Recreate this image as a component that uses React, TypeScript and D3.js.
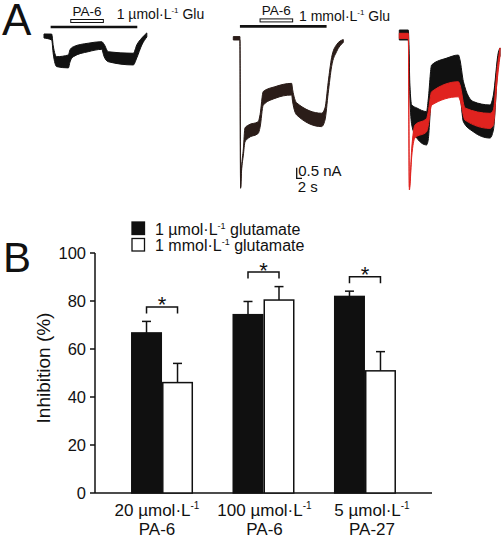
import React from "react";
import * as d3 from "d3";

const FONT = "'Liberation Sans', Arial, Helvetica, sans-serif";

// ---------- Panel A: current traces (time in s, current in nA) ----------
const T1_TIME = [0, 2.9, 3.5, 4.8, 9.2, 9.8, 11.1, 16.7, 21.8, 22.6, 24.3, 33.7, 35.0, 36.9, 38.8];
const T1_MEAN = [0, -0.05, -0.66, -1.21, -1.2, -0.94, -0.74, -0.54, -0.45, -0.66, -0.98, -1.09, -0.73, -0.26, 0.05];
const T1_SPREAD = [0.19, 0.28, 0.38, 0.47, 0.61, 0.57, 0.47, 0.4, 0.36, 0.57, 0.47, 0.55, 0.61, 0.33, 0.19];

const T2_TIME = [0, 2.5, 2.75, 3.1, 3.8, 4.4, 5.7, 9.4, 10.1, 11.3, 15.7, 22.0, 22.4, 23.9, 33.3, 34.6, 35.8, 37.1, 39.0, 41.5];
const T2_MEAN = [0, 0, -7.05, -6.2, -5.36, -4.56, -4.4, -4.21, -3.9, -2.83, -2.56, -2.4, -2.72, -3.33, -3.85, -3.57, -2.34, -1.12, -0.46, -0.13];
const T2_SPREAD = [0.16, 0.16, 0.05, 0.15, 0.3, 0.66, 0.61, 0.55, 0.6, 0.64, 0.55, 0.55, 0.57, 0.57, 0.63, 0.57, 0.52, 0.42, 0.33, 0.14];

const T3_BLACK_TIME = [0, 3.4, 4.0, 4.7, 6.6, 10.3, 10.9, 12.2, 17.9, 22.3, 22.9, 24.2, 27.9, 34.2, 35.5, 37.4, 38.0];
const T3_BLACK_MEAN = [0, 0, -2.67, -3.77, -4.15, -4.4, -4.01, -2.2, -1.88, -1.77, -2.0, -3.15, -3.85, -4.08, -3.66, -1.04, -0.8];
const T3_BLACK_SPREAD = [0.47, 0.47, 0.61, 0.94, 1.42, 1.57, 1.89, 1.57, 1.58, 1.65, 1.65, 1.89, 1.42, 1.56, 1.65, 0.47, 0.38];

const T3_RED_TIME = [0, 3.4, 3.8, 4.7, 5.9, 10.3, 10.9, 12.2, 22.3, 22.9, 24.8, 34.2, 35.5, 36.8, 38.0];
const T3_RED_MEAN = [-0.04, -0.04, -7.24, -5.52, -4.55, -4.25, -3.96, -2.99, -2.56, -2.71, -3.73, -4.05, -3.89, -2.03, -0.8];
const T3_RED_SPREAD = [0.24, 0.24, 0.14, 0.38, 0.61, 0.63, 0.66, 0.63, 0.71, 0.71, 0.57, 0.71, 0.71, 0.57, 0.38];

const GLU_ON = 2.5;
const GLU_OFF = 35.2;
const PA_ON = 10.1;
const PA_OFF = 22.4;
const SCALE_NA = 0.5;
const SCALE_S = 2;

// ---------- Panel B: bars ----------
const GROUP_IDS = ["g20", "g100", "g5"];
const GROUP_DOSE = ["20", "100", "5"];
const GROUP_DRUG = ["PA-6", "PA-6", "PA-27"];
const SERIES_IDS = ["low", "high"];
const SERIES_LABEL = ["1 \u00b5mol\u00b7L", "1 mmol\u00b7L"];
const LOW_GLU_MEAN = [66.7, 74.3, 81.9];
const LOW_GLU_ERR = [4.8, 5.5, 2.2];
const HIGH_GLU_MEAN = [46.0, 80.4, 50.9];
const HIGH_GLU_ERR = [8.0, 5.6, 8.0];
const SIGNIFICANT = [true, true, true];
const Y_TICKS = [0, 20, 40, 60, 80, 100];

function Sup({ x, y, before, sup, after, size, anchor, supSize }: any) {
  const s = supSize || Math.round(size * 0.6);
  const rise = Math.round(size * 0.4);
  return (
    <text x={x} y={y} fontSize={size} textAnchor={anchor || "start"} fontFamily={FONT} fill="#111">
      {before}
      <tspan dy={-rise} fontSize={s}>{sup}</tspan>
      <tspan dy={rise} fontSize={size}>{after}</tspan>
    </text>
  );
}

export default function App() {
  const xS = d3.scaleLinear().domain([0, 1]).range([0, 2.65]);
  const yS = d3.scaleLinear().domain([0, -1]).range([0, 21.2]);

  const tracePath = (T: number[], M: number[], S: number[], ox: number, oy: number) => {
    const idx = d3.range(T.length);
    return d3
      .area<number>()
      .x((i) => ox + xS(T[i]))
      .y0((i) => oy + yS(M[i] + S[i] / 2))
      .y1((i) => oy + yS(M[i] - S[i] / 2))
      .curve(d3.curveMonotoneX)(idx) as string;
  };

  const traces = [
    { T: T1_TIME, M: T1_MEAN, S: T1_SPREAD, ox: 44, oy: 36, color: "#111" },
    { T: T2_TIME, M: T2_MEAN, S: T2_SPREAD, ox: 233.3, oy: 38.3, color: "#2b1d19" },
    { T: T3_BLACK_TIME, M: T3_BLACK_MEAN, S: T3_BLACK_SPREAD, ox: 399.3, oy: 35, color: "#111" },
    { T: T3_RED_TIME, M: T3_RED_MEAN, S: T3_RED_SPREAD, ox: 399.3, oy: 35, color: "#e0231f" },
  ];

  const protocols = [
    { ox: 44, gy: 27, label: "1 \u00b5mol\u00b7L", lx: 116.7, ly: 19 },
    { ox: 233.3, gy: 26.4, label: "1 mmol\u00b7L", lx: 299, ly: 20.5 },
  ];

  const x0 = d3.scaleBand().domain(GROUP_IDS).range([95, 432]).paddingInner(0.389).paddingOuter(0.355);
  const x1 = d3.scaleBand().domain(SERIES_IDS).range([0, x0.bandwidth()]);
  const y = d3.scaleLinear().domain([0, 100]).range([493, 253]);
  const xLab = d3.scalePoint().domain(GROUP_IDS).range([157, 372]);
  const means = [LOW_GLU_MEAN, HIGH_GLU_MEAN];
  const errs = [LOW_GLU_ERR, HIGH_GLU_ERR];
  const fills = ["#101010", "#ffffff"];

  const sbX = 296.7;
  const sbY = 178.3;

  return (
    <svg
      width={502}
      height={538}
      style={{ position: "absolute", left: 0, top: 0, background: "#fff" }}
      fontFamily={FONT}
    >
      <rect x={0} y={0} width={502} height={538} fill="#fff" />
      <text x={2} y={35} fontSize={44} fill="#111">A</text>
      <text x={3} y={272} fontSize={42} fill="#111">B</text>

      {protocols.map((p, k) => (
        <g key={k}>
          <line x1={p.ox + xS(GLU_ON)} x2={p.ox + xS(GLU_OFF)} y1={p.gy} y2={p.gy} stroke="#111" strokeWidth={2.6} />
          <rect
            x={p.ox + xS(PA_ON)}
            y={p.gy - 7.5}
            width={xS(PA_OFF) - xS(PA_ON)}
            height={3}
            fill="#fff"
            stroke="#111"
            strokeWidth={1}
          />
          <text
            x={p.ox + (xS(PA_ON) + xS(PA_OFF)) / 2}
            y={p.gy - 11}
            fontSize={13.5}
            textAnchor="middle"
            fill="#111"
          >
            PA-6
          </text>
          <Sup x={p.lx} y={p.ly} before={p.label} sup="-1" after={"\u00a0Glu"} size={14} supSize={8} />
        </g>
      ))}

      {traces.map((t, k) => (
        <path
          key={k}
          d={tracePath(t.T, t.M, t.S, t.ox, t.oy)}
          fill={t.color}
          stroke={t.color}
          strokeWidth={1}
          strokeLinejoin="round"
        />
      ))}

      <path
        d={`M${sbX},${sbY - (yS(-SCALE_NA) - yS(0))}V${sbY}H${sbX + xS(SCALE_S)}`}
        fill="none"
        stroke="#111"
        strokeWidth={1.3}
      />
      <text x={sbX + 1.5} y={176} fontSize={15} fill="#111">0.5 nA</text>
      <text x={sbX + 1} y={192} fontSize={15} fill="#111">2 s</text>

      {SERIES_IDS.map((s, i) => (
        <g key={s}>
          <rect
            x={132}
            y={222 + i * 16.5}
            width={12.5}
            height={12.5}
            fill={fills[i]}
            stroke="#111"
            strokeWidth={1.3}
          />
          <Sup x={155} y={234.5 + i * 16} before={SERIES_LABEL[i]} sup="-1" after={"\u00a0glutamate"} size={16} supSize={9} />
        </g>
      ))}

      <line x1={95} x2={95} y1={y(100)} y2={y(0)} stroke="#111" strokeWidth={1.5} />
      <line x1={95} x2={432} y1={y(0)} y2={y(0)} stroke="#111" strokeWidth={1.5} />
      {Y_TICKS.map((v) => (
        <g key={v}>
          <line x1={90} x2={95} y1={y(v)} y2={y(v)} stroke="#111" strokeWidth={1.5} />
          <text x={86} y={y(v)} dy="0.36em" fontSize={16.5} textAnchor="end" fill="#111">
            {v}
          </text>
        </g>
      ))}
      <text transform="translate(50,368) rotate(-90)" fontSize={19} textAnchor="middle" fill="#111">
        Inhibition (%)
      </text>

      {GROUP_IDS.map((g, gi) => {
        const gx = x0(g) as number;
        const tops = SERIES_IDS.map((s, si) => y(means[si][gi] + errs[si][gi]));
        const bY = Math.min(...tops) - 14.5;
        const c0 = gx + (x1(SERIES_IDS[0]) as number) + x1.bandwidth() / 2;
        const c1 = gx + (x1(SERIES_IDS[1]) as number) + x1.bandwidth() / 2;
        return (
          <g key={g}>
            {SERIES_IDS.map((s, si) => {
              const bx = gx + (x1(s) as number);
              const cx = bx + x1.bandwidth() / 2;
              const top = y(means[si][gi]);
              const et = y(means[si][gi] + errs[si][gi]);
              return (
                <g key={s}>
                  <line x1={cx} x2={cx} y1={top} y2={et} stroke="#111" strokeWidth={1.5} />
                  <line x1={cx - 4.5} x2={cx + 4.5} y1={et} y2={et} stroke="#111" strokeWidth={1.5} />
                  <rect
                    x={bx + 0.75}
                    y={top}
                    width={x1.bandwidth() - 1.5}
                    height={y(0) - top}
                    fill={fills[si]}
                    stroke="#111"
                    strokeWidth={1.5}
                  />
                </g>
              );
            })}
            {SIGNIFICANT[gi] && (
              <g>
                <path
                  d={`M${c0},${bY + 6.5}V${bY}H${c1}V${bY + 6.5}`}
                  fill="none"
                  stroke="#111"
                  strokeWidth={1.5}
                />
                <text x={(c0 + c1) / 2} y={bY + 5.5} fontSize={22} textAnchor="middle" fill="#111">
                  *
                </text>
              </g>
            )}
            <Sup
              x={xLab(g) as number}
              y={516}
              before={`${GROUP_DOSE[gi]} \u00b5mol\u00b7L`}
              sup="-1"
              after=""
              size={17}
              supSize={10}
              anchor="middle"
            />
            <text x={xLab(g) as number} y={535} fontSize={17} textAnchor="middle" fill="#111">
              {GROUP_DRUG[gi]}
            </text>
          </g>
        );
      })}
    </svg>
  );
}
